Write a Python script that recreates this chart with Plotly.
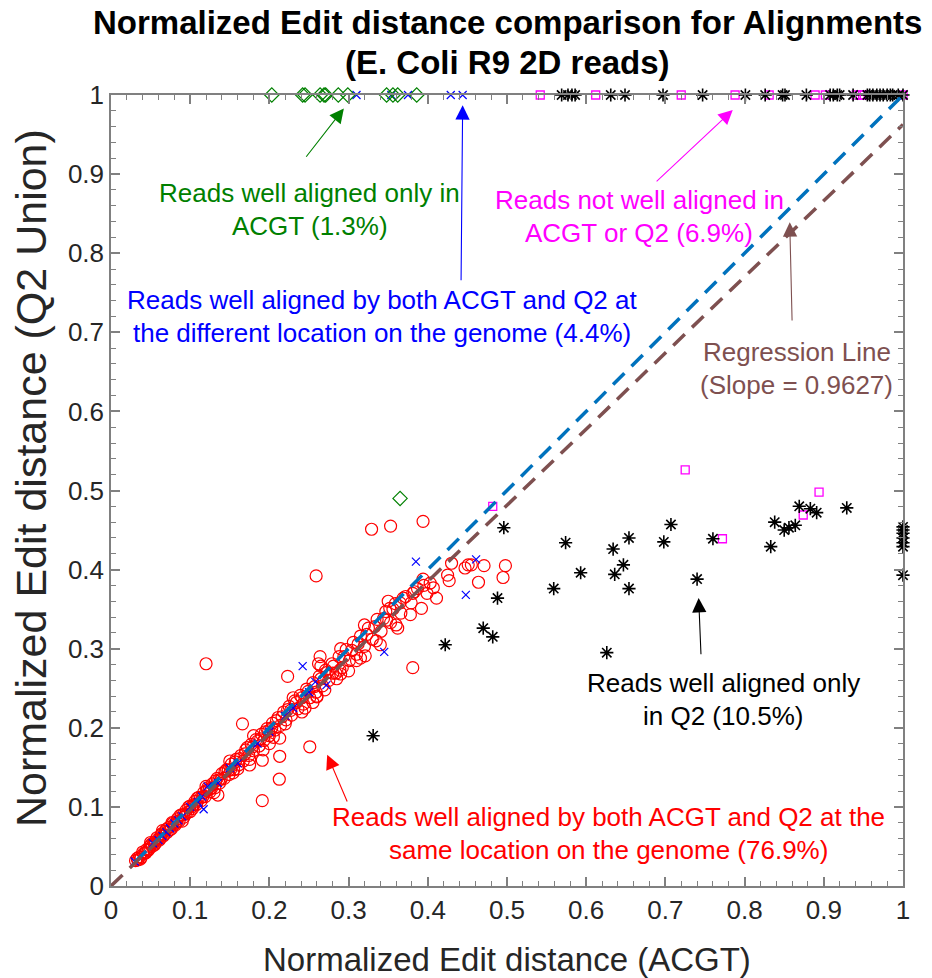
import plotly.graph_objects as go

# ---------------- data ----------------
# Reads aligned at the same location by both (red circles)
red_x = [0.031, 0.034, 0.036, 0.038, 0.041, 0.043, 0.045, 0.047, 0.049, 0.052, 0.054, 0.056, 0.059, 0.061,
         0.063, 0.066, 0.068, 0.071, 0.073, 0.076, 0.078, 0.081, 0.084, 0.086, 0.089, 0.092, 0.095, 0.097,
         0.100, 0.103, 0.106, 0.108, 0.111, 0.114, 0.117, 0.119, 0.122, 0.125, 0.128, 0.131, 0.134, 0.137,
         0.140, 0.143, 0.146, 0.149, 0.152, 0.155, 0.158, 0.161, 0.164, 0.167, 0.170, 0.174, 0.177, 0.180,
         0.183, 0.187, 0.190, 0.193, 0.197, 0.200, 0.204, 0.207, 0.211, 0.214, 0.218, 0.221, 0.225, 0.228,
         0.232, 0.236, 0.239, 0.243, 0.247, 0.251, 0.255, 0.259, 0.263, 0.267, 0.271, 0.275, 0.279, 0.284,
         0.288, 0.292, 0.297, 0.301, 0.306, 0.310, 0.315, 0.320, 0.325, 0.330, 0.336, 0.341, 0.347, 0.353,
         0.359, 0.366, 0.372, 0.379, 0.387, 0.395,
         0.090, 0.130, 0.160, 0.175, 0.205, 0.220, 0.245, 0.260, 0.270, 0.285, 0.290, 0.310, 0.320, 0.335,
         0.350, 0.340, 0.360, 0.290, 0.230, 0.180, 0.150, 0.120, 0.100, 0.065, 0.050, 0.200, 0.255, 0.300,
         0.265, 0.315, 0.175, 0.154, 0.192, 0.213, 0.260, 0.280, 0.289, 0.264,
         0.120, 0.223, 0.166, 0.251, 0.213, 0.2125, 0.191, 0.321, 0.262, 0.191, 0.135, 0.241, 0.259, 0.329,
         0.353, 0.394, 0.498, 0.495, 0.471, 0.464, 0.381,
         0.430, 0.425, 0.427, 0.447, 0.451, 0.455, 0.394, 0.403, 0.407, 0.411, 0.392, 0.378, 0.362, 0.399,
         0.381, 0.365, 0.352, 0.348,
         0.033, 0.037, 0.040, 0.044, 0.048, 0.051, 0.055, 0.058, 0.062, 0.064, 0.067, 0.070, 0.074, 0.077,
         0.080, 0.083, 0.087, 0.091, 0.094, 0.098, 0.102, 0.105, 0.109, 0.113, 0.116, 0.121, 0.124, 0.127,
         0.132, 0.136, 0.139, 0.144, 0.148, 0.151, 0.157, 0.163, 0.169, 0.172, 0.179, 0.185, 0.189, 0.195,
         0.199, 0.203, 0.209, 0.216, 0.223, 0.227, 0.234, 0.241, 0.249, 0.257, 0.265, 0.273, 0.281, 0.294,
         0.304, 0.312, 0.323, 0.333, 0.344, 0.356, 0.369, 0.383]
red_y = [0.032, 0.033, 0.037, 0.036, 0.041, 0.042, 0.046, 0.045, 0.050, 0.050, 0.055, 0.054, 0.059, 0.058,
         0.064, 0.063, 0.069, 0.068, 0.074, 0.072, 0.079, 0.077, 0.085, 0.082, 0.090, 0.087, 0.096, 0.093,
         0.101, 0.098, 0.107, 0.103, 0.112, 0.108, 0.118, 0.113, 0.124, 0.119, 0.129, 0.124, 0.136, 0.130,
         0.142, 0.136, 0.147, 0.141, 0.154, 0.147, 0.160, 0.153, 0.165, 0.158, 0.172, 0.165, 0.179, 0.171,
         0.185, 0.177, 0.192, 0.184, 0.199, 0.190, 0.206, 0.197, 0.213, 0.203, 0.220, 0.210, 0.227, 0.216,
         0.234, 0.224, 0.241, 0.230, 0.249, 0.238, 0.257, 0.245, 0.265, 0.253, 0.273, 0.260, 0.281, 0.269,
         0.290, 0.276, 0.299, 0.285, 0.308, 0.293, 0.316, 0.303, 0.326, 0.312, 0.337, 0.322, 0.347, 0.333,
         0.357, 0.345, 0.366, 0.358, 0.376, 0.380,
         0.082, 0.118, 0.148, 0.160, 0.188, 0.205, 0.225, 0.240, 0.248, 0.262, 0.300, 0.285, 0.330, 0.310,
         0.360, 0.305, 0.330, 0.268, 0.238, 0.190, 0.158, 0.126, 0.094, 0.070, 0.055, 0.180, 0.232, 0.272,
         0.278, 0.288, 0.153, 0.143, 0.172, 0.187, 0.239, 0.269, 0.273, 0.290,
         0.281, 0.265, 0.205, 0.176, 0.164, 0.135, 0.108, 0.291, 0.281, 0.159, 0.115, 0.220, 0.392, 0.451,
         0.455, 0.461, 0.405, 0.390, 0.405, 0.384, 0.276,
         0.408, 0.393, 0.386, 0.402, 0.406, 0.406, 0.388, 0.383, 0.377, 0.364, 0.351, 0.343, 0.326, 0.370,
         0.370, 0.358, 0.351, 0.336,
         0.035, 0.034, 0.043, 0.042, 0.047, 0.053, 0.052, 0.061, 0.060, 0.066, 0.065, 0.072, 0.071, 0.080,
         0.078, 0.081, 0.089, 0.090, 0.091, 0.100, 0.100, 0.103, 0.111, 0.111, 0.113, 0.121, 0.122, 0.124,
         0.133, 0.134, 0.135, 0.145, 0.146, 0.147, 0.157, 0.161, 0.167, 0.175, 0.176, 0.183, 0.186, 0.195,
         0.196, 0.200, 0.209, 0.214, 0.223, 0.222, 0.232, 0.238, 0.246, 0.252, 0.262, 0.270, 0.278, 0.290,
         0.298, 0.306, 0.318, 0.328, 0.338, 0.350, 0.364, 0.372]

# Reads aligned by both at a different location (blue crosses)
blue_x = [0.310, 0.354, 0.375, 0.429, 0.444,
          0.242, 0.345, 0.272, 0.258, 0.122, 0.150, 0.100, 0.117, 0.0745, 0.053, 0.030,
          0.060, 0.065, 0.070, 0.080, 0.085, 0.090, 0.110, 0.115, 0.135, 0.160, 0.185, 0.200, 0.220,
          0.230, 0.250, 0.385, 0.461, 0.448]
blue_y = [1.0, 1.0, 1.0, 1.0, 1.0,
          0.278, 0.296, 0.254, 0.258, 0.126, 0.149, 0.100, 0.097, 0.073, 0.054, 0.031,
          0.058, 0.063, 0.068, 0.079, 0.083, 0.088, 0.106, 0.113, 0.130, 0.155, 0.180, 0.195, 0.215,
          0.225, 0.245, 0.410, 0.413, 0.368]

# Reads well aligned only in ACGT (green diamonds)
green_x = [0.203, 0.242, 0.245, 0.264, 0.269, 0.271, 0.287, 0.299, 0.348, 0.356, 0.362, 0.386, 0.365]
green_y = [1.0, 1.0, 1.0, 1.0, 1.0, 1.0, 1.0, 1.0, 1.0, 1.0, 1.0, 1.0, 0.490]

# Reads not well aligned in either (magenta squares)
mag_x = [0.542, 0.612, 0.720, 0.788, 0.831, 0.889, 0.902, 0.941, 0.946, 0.949, 1.0,
         0.772, 0.874, 0.894, 0.482, 0.725]
mag_y = [1.0, 1.0, 1.0, 1.0, 1.0, 1.0, 1.0, 1.0, 1.0, 1.0, 1.0,
         0.439, 0.469, 0.498, 0.480, 0.526]

# Reads well aligned only in Q2 (black asterisks)
blk_x = [0.569, 0.577, 0.582, 0.586, 0.631, 0.649, 0.697, 0.747, 0.801, 0.826, 0.848, 0.851, 0.878,
         0.908, 0.912, 0.917, 0.920, 0.937, 0.955, 0.958, 0.962, 0.967, 0.971, 0.975, 0.980, 0.984,
         0.987, 0.994, 1.0,
         0.760, 0.740, 0.838, 0.833, 0.850, 0.856, 0.864, 0.869, 0.883, 0.891, 0.929,
         0.496, 0.488, 0.470, 0.482, 0.422, 0.574, 0.593, 0.559, 0.634, 0.654, 0.647, 0.636, 0.654,
         0.626, 0.707, 0.698, 0.331,
         1.0, 1.0, 1.0, 1.0, 1.0, 1.0, 1.0]
blk_y = [1.0, 1.0, 1.0, 1.0, 1.0, 1.0, 1.0, 1.0, 1.0, 1.0, 1.0, 1.0, 1.0,
         1.0, 1.0, 1.0, 1.0, 1.0, 1.0, 1.0, 1.0, 1.0, 1.0, 1.0, 1.0, 1.0,
         1.0, 1.0, 1.0,
         0.439, 0.388, 0.460, 0.429, 0.450, 0.453, 0.456, 0.480, 0.477, 0.472, 0.478,
         0.453, 0.364, 0.326, 0.315, 0.305, 0.434, 0.396, 0.376, 0.426, 0.440, 0.406, 0.394, 0.376,
         0.295, 0.457, 0.435, 0.190,
         0.454, 0.450, 0.446, 0.440, 0.434, 0.429, 0.393]

# Reference lines
identity_x = [0.03, 1.0]
regression_slope = 0.9627
regression_x = [0.0, 1.0]

tick_vals = [0, 0.1, 0.2, 0.3, 0.4, 0.5, 0.6, 0.7, 0.8, 0.9, 1]
tick_text = ["0", "0.1", "0.2", "0.3", "0.4", "0.5", "0.6", "0.7", "0.8", "0.9", "1"]

# ---------------- style ----------------
FONT = "Liberation Sans, Arial, Helvetica, sans-serif"
AX_COLOR = "#808080"
TXT_COLOR = "#262626"
GREEN = "#008000"
BLUE = "#0000FF"
MAGENTA = "#FF00FF"
BROWN = "#7E5050"
LINE_BLUE = "#0072BD"

# plot-area geometry in pixels (used to place pixel-row text)
PLOT_BOTTOM = 886
PLOT_H = 791


def row_to_y(py):
    return (PLOT_BOTTOM - py) / PLOT_H


fig = go.Figure()

fig.add_trace(go.Scatter(x=red_x, y=red_y, mode="markers",
                         marker=dict(symbol="circle-open", size=12, color="#FF0000",
                                     line=dict(width=1.2, color="#FF0000")),
                         cliponaxis=False, showlegend=False))
fig.add_trace(go.Scatter(x=blue_x, y=blue_y, mode="markers",
                         marker=dict(symbol="x-thin-open", size=8, color=BLUE,
                                     line=dict(width=1.2, color=BLUE)),
                         cliponaxis=False, showlegend=False))
fig.add_trace(go.Scatter(x=green_x, y=green_y, mode="markers",
                         marker=dict(symbol="diamond-open", size=11, color=GREEN,
                                     line=dict(width=1.2, color=GREEN)),
                         cliponaxis=False, showlegend=False))
fig.add_trace(go.Scatter(x=mag_x, y=mag_y, mode="markers",
                         marker=dict(symbol="square-open", size=8, color=MAGENTA,
                                     line=dict(width=1.3, color=MAGENTA)),
                         cliponaxis=False, showlegend=False))
fig.add_trace(go.Scatter(x=blk_x, y=blk_y, mode="markers",
                         marker=dict(symbol="asterisk-open", size=11, color="#000000",
                                     line=dict(width=1.6, color="#000000")),
                         cliponaxis=False, showlegend=False))

fig.add_trace(go.Scatter(x=identity_x, y=identity_x, mode="lines",
                         line=dict(color=LINE_BLUE, width=3.5, dash="16px,10px"),
                         showlegend=False))
fig.add_trace(go.Scatter(x=regression_x, y=[regression_slope * v for v in regression_x], mode="lines",
                         line=dict(color=BROWN, width=3.5, dash="16px,10px"),
                         showlegend=False))

axis_common = dict(
    range=[0, 1], tickvals=tick_vals, ticktext=tick_text,
    showline=True, linecolor=AX_COLOR, linewidth=1.5, mirror="allticks",
    ticks="inside", ticklen=9, tickwidth=1.5, tickcolor=AX_COLOR,
    minor=dict(dtick=0.02, ticks="inside", ticklen=5, tickwidth=1, tickcolor=AX_COLOR),
    showgrid=False, zeroline=False,
    tickfont=dict(family=FONT, size=26, color=TXT_COLOR),
)

fig.update_layout(
    width=932, height=978,
    margin=dict(l=111, r=29, t=95, b=92),
    paper_bgcolor="white", plot_bgcolor="white",
    xaxis=dict(**axis_common),
    yaxis=dict(**axis_common),
    showlegend=False,
)

annos = []


def text_lines(lines, xc, y_top_px, color, size=26, spacing_px=33):
    # one annotation per line so the line spacing is fixed in pixels
    for i, s in enumerate(lines):
        annos.append(dict(text=s, x=xc, y=row_to_y(y_top_px + i * spacing_px), xref="x", yref="y",
                          xanchor="center", yanchor="middle", showarrow=False,
                          font=dict(family=FONT, size=size, color=color)))


def arrow(tail, head, color):
    annos.append(dict(text="", x=head[0], y=head[1], ax=tail[0], ay=tail[1],
                      xref="x", yref="y", axref="x", ayref="y",
                      showarrow=True, arrowhead=2, arrowsize=2.6, arrowwidth=1.1,
                      arrowcolor=color, standoff=0, startstandoff=0))


text_lines(["Reads well aligned only in", "ACGT (1.3%)"], 0.251, 193, GREEN)
text_lines(["Reads well aligned by both ACGT and Q2 at",
            "the different location on the genome (4.4%)"], 0.342, 300, BLUE)
text_lines(["Reads not well aligned in", "ACGT or Q2 (6.9%)"], 0.667, 200, MAGENTA)
text_lines(["Regression Line", "(Slope = 0.9627)"], 0.866, 352, BROWN)
text_lines(["Reads well aligned only", "in Q2 (10.5%)"], 0.773, 683, "#000000")
text_lines(["Reads well aligned by both ACGT and Q2 at the",
            "same location on the genome (76.9%)"], 0.628, 817, "#FF0000")

arrow((0.245, 0.920), (0.294, 0.983), GREEN)
arrow((0.442, 0.764), (0.444, 0.987), BLUE)
arrow((0.687, 0.889), (0.785, 0.981), MAGENTA)
arrow((0.860, 0.713), (0.857, 0.839), BROWN)
arrow((0.745, 0.291), (0.742, 0.364), "#000000")
arrow((0.299, 0.105), (0.273, 0.166), "#FF0000")

# title (two rows) and axis titles
for row_text, row_px in [("Normalized Edit distance comparison for Alignments", 23),
                         ("(E. Coli R9 2D reads)", 62)]:
    annos.append(dict(text="<b>" + row_text + "</b>", x=0.5, y=row_to_y(row_px),
                      xref="paper", yref="paper", showarrow=False,
                      xanchor="center", yanchor="middle",
                      font=dict(family=FONT, size=33, color="#000000")))
annos.append(dict(text="Normalized Edit distance (ACGT)", x=0.5, y=row_to_y(960),
                  xref="paper", yref="paper", showarrow=False,
                  xanchor="center", yanchor="middle",
                  font=dict(family=FONT, size=33, color=TXT_COLOR)))
annos.append(dict(text="Normalized Edit distance (Q2 Union)", x=-0.101, y=row_to_y(478),
                  xref="paper", yref="paper", showarrow=False, textangle=-90,
                  xanchor="center", yanchor="middle",
                  font=dict(family=FONT, size=43, color=TXT_COLOR)))

fig.update_layout(annotations=annos)

fig.write_html("out.html")
